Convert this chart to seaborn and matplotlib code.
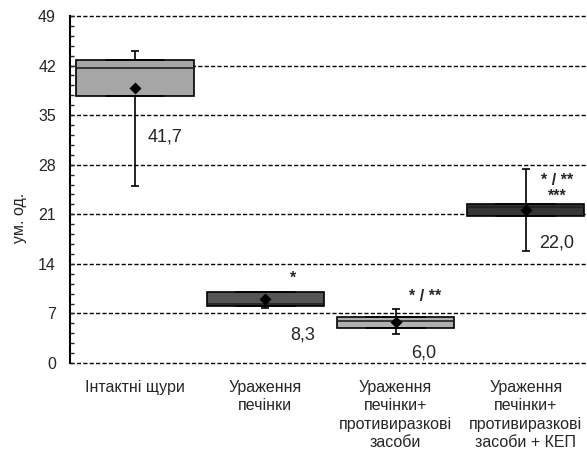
import numpy as np
import pandas as pd
import matplotlib
matplotlib.use('Agg')
import matplotlib.pyplot as plt
import seaborn as sns
from matplotlib.ticker import MultipleLocator

sns.set_style('white')
plt.rcParams['font.family'] = ['Liberation Sans', 'DejaVu Sans']

# groups on the x axis
groups = ['Інтактні щури',
          'Ураження\nпечінки',
          'Ураження\nпечінки+\nпротивиразкові\nзасоби',
          'Ураження\nпечінки+\nпротивиразкові\nзасоби + КЕП']

# box stats
q1 = [37.75, 8.05, 4.9, 20.7]
median = [41.7, 8.3, 6.0, 22.0]
q3 = [42.8, 10.07, 6.45, 22.45]
low = [25.0, 7.7, 4.1, 15.8]     # whisker ends
high = [44.0, 9.8, 7.6, 27.4]
means = [38.8, 9.0, 5.8, 21.6]  # diamonds

# significance marks
stars = ['', '*', '* / **', '* / **\n***']

colors = ['#a6a6a6', '#555555', '#b0b0b0', '#363636']

# five values per box so quartiles come out exactly q1 / median / q3
rows = []
for g, a, m, b in zip(groups, q1, median, q3):
    for v in [a, a, m, b, b]:
        rows.append({'group': g, 'value': v})
df = pd.DataFrame(rows)

fig = plt.figure(figsize=(5.87, 4.49), dpi=100)
ax = fig.add_axes([0.119, 0.1915, 0.881, 0.773])

sns.boxplot(data=df, x='group', y='value', hue='group', palette=colors,
            width=0.9, whis=(0, 100), linewidth=1.2, linecolor='black',
            legend=False, ax=ax,
            medianprops={'color': '#202020', 'linewidth': 1.2})

# whiskers with caps, behind the boxes
m = np.array(means)
ax.errorbar(np.arange(len(groups)), m,
            yerr=[m - np.array(low), np.array(high) - m],
            fmt='none', ecolor='black', elinewidth=1.2,
            capsize=3, capthick=1.2, zorder=1)

# mean diamonds
sns.pointplot(x=groups, y=means, linestyle='none', marker='D',
              color='black', markersize=4.5, errorbar=None, ax=ax, zorder=6)

# median labels
label_pos = [(0.10, 31.9, 'left'), (1.285, 3.95, 'center'),
             (2.214, 1.41, 'center'), (3.24, 16.95, 'center')]
for (x, y, ha), v in zip(label_pos, median):
    ax.text(x, y, f'{v:.1f}'.replace('.', ','), fontsize=13,
            ha=ha, va='center')

star_pos = [(0, 0), (1.21, 12.0), (2.23, 9.4), (3.24, 24.6)]
for (x, y), s in zip(star_pos, stars):
    if s:
        ax.text(x, y, s, fontsize=11.5, ha='center', va='center',
                fontweight='bold', linespacing=1.05)

ax.set_xlim(-0.5, 3.47)
ax.set_ylim(0, 49)
ax.yaxis.set_major_locator(MultipleLocator(7))
ax.yaxis.set_minor_locator(MultipleLocator(1.4))
ax.tick_params(axis='y', which='both', direction='in', left=True,
               labelsize=11.5, pad=10, length=3, width=1)
ax.tick_params(axis='x', length=0, labelsize=11.5, pad=12)
for lab in ax.get_xticklabels():
    lab.set_linespacing(1.3)

ax.set_axisbelow(True)
ax.grid(axis='y', which='major', color='black', linestyle=(0, (3, 1.6)),
        linewidth=1)
ax.grid(axis='x', visible=False)
for gl in ax.yaxis.get_gridlines():
    gl.set_clip_on(False)
for side in ['top', 'right', 'bottom']:
    ax.spines[side].set_visible(False)
ax.spines['left'].set_color('black')
ax.spines['left'].set_linewidth(1.5)

ax.set_xlabel('')
ax.set_ylabel('ум. од.', fontsize=11.5)
ax.yaxis.set_label_coords(-0.082, 0.418)

fig.savefig('out.png', dpi=100)
